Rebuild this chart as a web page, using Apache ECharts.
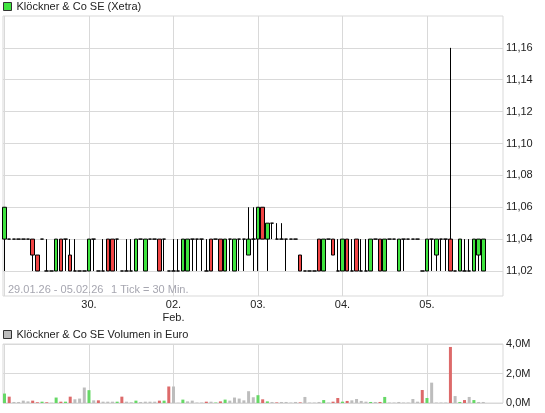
<!DOCTYPE html>
<html><head><meta charset="utf-8">
<script src="https://cdn.jsdelivr.net/npm/echarts@6/dist/echarts.min.js"></script>
<style>html,body{margin:0;padding:0;background:#fff}#c{width:545px;height:413px}</style>
</head><body><div id="c"></div>
<script>
// ---- data ----
const priceTitle = 'Klöckner & Co SE (Xetra)';
const volumeTitle = 'Klöckner & Co SE Volumen in Euro';
const rangeText = '29.01.26 - 05.02.26';
const tickText = '1 Tick = 30 Min.';
const dayLabels = ['29.', '30.', '02.\nFeb.', '03.', '04.', '05.'];
const barsPerDay = 18;
const priceTicks = [11.02, 11.04, 11.06, 11.08, 11.10, 11.12, 11.14, 11.16];
const volumeTicks = [0, 2, 4];

const opens = [
 11.04,11.04,11.04,11.04,11.04,11.04,11.04,11.03,11.04,11.02,11.02,11.02,11.04,11.04,11.03,11.02,11.02,11.02,
 11.02,11.04,11.02,11.02,11.04,11.04,11.04,11.02,11.02,11.02,11.02,11.04,11.02,11.04,11.04,11.04,11.04,11.02,
 11.02,11.02,11.02,11.02,11.04,11.04,11.04,11.02,11.04,11.04,11.04,11.02,11.04,11.02,11.04,11.04,11.03,11.04,
 11.04,11.06,11.04,11.05,11.04,11.04,11.04,11.04,11.04,11.03,11.02,11.02,11.02,11.04,11.02,11.04,11.04,11.02,
 11.02,11.04,11.02,11.04,11.02,11.02,11.02,11.04,11.04,11.02,11.04,11.04,11.02,11.04,11.04,11.04,11.04,11.02,
 11.02,11.04,11.03,11.04,11.04,11.04,11.02,11.02,11.02,11.02,11.02,11.03,11.02];
const closes = [
 11.06,11.04,11.04,11.04,11.04,11.04,11.03,11.02,11.04,11.02,11.02,11.04,11.02,11.04,11.02,11.02,11.02,11.02,
 11.04,11.04,11.02,11.02,11.02,11.02,11.04,11.02,11.02,11.02,11.04,11.04,11.04,11.04,11.04,11.02,11.04,11.02,
 11.02,11.02,11.04,11.04,11.04,11.04,11.04,11.02,11.02,11.04,11.02,11.04,11.04,11.04,11.04,11.04,11.04,11.04,
 11.06,11.04,11.05,11.05,11.04,11.04,11.04,11.04,11.04,11.02,11.02,11.02,11.02,11.02,11.04,11.04,11.03,11.02,
 11.04,11.02,11.02,11.02,11.02,11.02,11.04,11.04,11.02,11.04,11.04,11.04,11.04,11.04,11.04,11.04,11.04,11.02,
 11.04,11.04,11.04,11.04,11.04,11.02,11.02,11.04,11.02,11.02,11.04,11.04,11.04];
const lows = [
 11.02,11.04,11.04,11.04,11.04,11.04,11.02,11.02,11.04,11.02,11.02,11.02,11.02,11.02,11.02,11.02,11.02,11.02,
 11.02,11.02,11.02,11.02,11.02,11.02,11.02,11.02,11.02,11.02,11.02,11.04,11.02,11.04,11.04,11.02,11.02,11.02,
 11.02,11.02,11.02,11.02,11.02,11.02,11.02,11.02,11.02,11.04,11.02,11.02,11.02,11.02,11.02,11.02,11.03,11.02,
 11.02,11.04,11.02,11.04,11.04,11.04,11.02,11.04,11.04,11.02,11.02,11.02,11.02,11.02,11.02,11.04,11.03,11.02,
 11.02,11.02,11.02,11.02,11.02,11.02,11.02,11.04,11.02,11.02,11.04,11.04,11.02,11.02,11.04,11.04,11.04,11.02,
 11.02,11.02,11.02,11.02,11.02,11.02,11.02,11.02,11.02,11.02,11.02,11.02,11.02];
const highs = [
 11.06,11.04,11.04,11.04,11.04,11.04,11.04,11.03,11.04,11.04,11.02,11.04,11.04,11.04,11.04,11.04,11.02,11.02,
 11.04,11.04,11.02,11.04,11.04,11.04,11.04,11.02,11.04,11.04,11.04,11.04,11.04,11.04,11.04,11.04,11.04,11.02,
 11.04,11.04,11.04,11.04,11.04,11.04,11.04,11.04,11.04,11.04,11.04,11.04,11.04,11.04,11.04,11.04,11.06,11.06,
 11.06,11.06,11.05,11.05,11.05,11.05,11.04,11.04,11.04,11.03,11.02,11.02,11.02,11.04,11.04,11.04,11.04,11.04,
 11.04,11.04,11.04,11.04,11.04,11.04,11.04,11.04,11.04,11.04,11.04,11.04,11.04,11.04,11.04,11.04,11.04,11.02,
 11.04,11.04,11.04,11.04,11.04,11.16,11.02,11.04,11.04,11.04,11.04,11.04,11.04];
const volumes = [ // million EUR
 0.64,0.43,0.07,0.07,0.16,0.11,0.16,0.05,0.09,0.05,0.02,0.37,0.09,0.09,0.43,0.25,0.30,1.05,
 0.87,0.18,0.18,0.09,0.09,0.09,0.09,0.43,0.09,0.05,0.16,0.07,0.09,0.09,0.09,0.16,0.16,1.12,
 1.12,0.02,0.23,0.11,0.16,0.03,0.03,0.09,0.09,0.03,0.11,0.23,0.16,0.37,0.30,0.18,0.80,0.39,
 0.53,0.25,0.11,0.07,0.04,0.07,0.07,0.03,0.07,0.04,0.41,0.03,0.03,0.07,0.20,0.03,0.09,0.34,
 0.09,0.14,0.18,0.27,0.14,0.09,0.07,0.07,0.07,0.41,0.03,0.03,0.07,0.03,0.03,0.27,0.09,0.88,
 0.34,1.38,0.03,0.03,0.03,3.80,0.47,0.07,0.20,0.41,0.20,0.07,0.07];

// ---- chart ----
const FONT = 'Liberation Sans, Arial, sans-serif';
const UP = '#3fe43f', DOWN = '#f04444';
const VUP = '#66d866', VDOWN = '#dd6a6a', VFLAT = '#bdbdbd';
const GRID_C = '#d9d9d9';
const dayStarts = dayLabels.map((_, k) => k * barsPerDay);

const candleData = opens.map((o, i) => [i, o, closes[i], lows[i], highs[i]]);
const volData = volumes.map((v, i) => [i, v]);

function xAxisBase(gridIndex, withLabels) {
  return {
    type: 'value', gridIndex, min: -0.32, max: 106.2,
    axisLine: { show: false },
    axisTick: { show: false, customValues: dayStarts },
    axisLabel: withLabels ? {
      show: true, customValues: dayStarts.slice(1),
      formatter: v => dayLabels[Math.round(v / barsPerDay)],
      fontSize: 11, color: '#222', fontFamily: FONT, lineHeight: 13, margin: 2
    } : { show: false },
    splitLine: { show: true, lineStyle: { color: GRID_C, width: 1 } }
  };
}

const option = {
  animation: false,
  backgroundColor: '#fff',
  textStyle: { fontFamily: FONT },
  title: [
    { text: rangeText, left: 8, top: 284, padding: 0,
      textStyle: { fontSize: 11, fontWeight: 'normal', color: '#a6a6b0', fontFamily: FONT } },
    { text: tickText, left: 111, top: 284, padding: 0,
      textStyle: { fontSize: 11, fontWeight: 'normal', color: '#a6a6b0', fontFamily: FONT } }
  ],
  legend: [
    { data: [{ name: priceTitle, icon: 'rect', itemStyle: { color: UP, borderColor: '#333', borderWidth: 1 } }],
      left: 3, top: 1, padding: 0, itemWidth: 8, itemHeight: 8, selectedMode: false,
      textStyle: { fontSize: 11, color: '#222', fontFamily: FONT } },
    { data: [{ name: volumeTitle, icon: 'rect', itemStyle: { color: VFLAT, borderColor: '#333', borderWidth: 1 } }],
      left: 3, top: 329, padding: 0, itemWidth: 8, itemHeight: 8, selectedMode: false,
      textStyle: { fontSize: 11, color: '#222', fontFamily: FONT } }
  ],
  grid: [
    { left: 3, right: 42, top: 16, height: 280, show: true, borderColor: GRID_C, borderWidth: 1 },
    { left: 3, right: 42, top: 344, height: 59, show: true, borderColor: GRID_C, borderWidth: 1 }
  ],
  xAxis: [xAxisBase(0, true), xAxisBase(1, false)],
  yAxis: [
    { type: 'value', gridIndex: 0, position: 'right', min: 11.0043, max: 11.18, scale: true,
      axisLine: { show: false },
      axisTick: { show: false, customValues: priceTicks },
      axisLabel: { customValues: priceTicks, formatter: v => v.toFixed(2).replace('.', ','),
        fontSize: 11, color: '#222', fontFamily: FONT, margin: 3 },
      splitLine: { show: true, lineStyle: { color: GRID_C } } },
    { type: 'value', gridIndex: 1, position: 'right', min: 0, max: 4, interval: 2,
      axisLine: { show: false }, axisTick: { show: false },
      axisLabel: { formatter: v => v.toFixed(1).replace('.', ',') + 'M',
        fontSize: 11, color: '#222', fontFamily: FONT, margin: 3 },
      splitLine: { show: true, lineStyle: { color: GRID_C } } }
  ],
  series: [
    { name: priceTitle, type: 'candlestick', xAxisIndex: 0, yAxisIndex: 0,
      data: candleData, encode: { x: 0, y: [1, 2, 3, 4] },
      barWidth: 4, silent: true,
      itemStyle: { color: UP, color0: DOWN, borderColor: '#000', borderColor0: '#000',
        borderColorDoji: '#000', borderWidth: 1 } },
    { name: volumeTitle, type: 'bar', xAxisIndex: 1, yAxisIndex: 1,
      data: volData, barWidth: 3, silent: true,
      itemStyle: { color: p => {
        const i = p.dataIndex;
        const prev = i > 0 ? closes[i - 1] : opens[i];
        return closes[i] > prev ? VUP : closes[i] < prev ? VDOWN : VFLAT;
      } } }
  ]
};
const chart = echarts.init(document.getElementById('c'), null, { renderer: 'canvas' });
chart.setOption(option);
</script>
</body></html>
